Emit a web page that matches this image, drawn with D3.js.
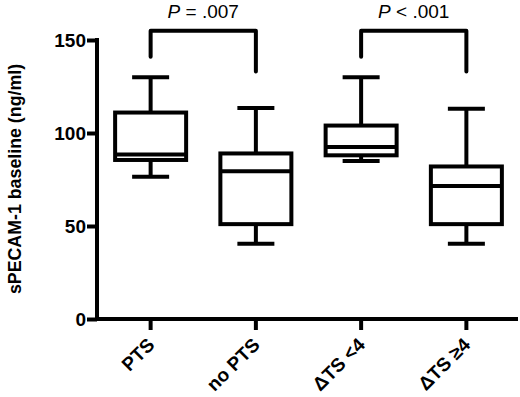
<!DOCTYPE html>
<html><head><meta charset="utf-8">
<script src="https://cdn.jsdelivr.net/npm/d3@7"></script>
<style>body{margin:0;background:#fff}svg{display:block}</style>
</head><body>
<svg id="c" width="520" height="397"></svg>
<script>
const categories = ["PTS", "no PTS", "\u0394TS <4", "\u0394TS \u22654"];
const whiskerLow  = [76.5, 40.5, 85, 40.5];
const q1          = [85.5, 51, 88, 51];
const median      = [88.5, 79.5, 92.5, 71.5];
const q3          = [111, 89, 104, 82];
const whiskerHigh = [130, 113.5, 130, 113];
const yTicks = [0, 50, 100, 150];
const pLabels = ["= .007", "< .001"];
const bracketPairs = [[0, 1], [2, 3]];
const bracketTop = [155, 155];
const bracketLeftEnd = [141, 141];
const bracketRightEnd = [133, 133];

const svg = d3.select("#c");
const font = "'Liberation Sans', Arial, sans-serif";
const y = d3.scaleLinear().domain([0, 150]).range([319, 40]);
const x = d3.scaleBand().domain(categories).range([98, 519]).paddingInner(0).paddingOuter(0);
const cx = c => x(c) + x.bandwidth() / 2;
const boxW = 71, capW = 37, sw = 4;

// Y axis
const yAx = svg.append("g").attr("transform", "translate(97,0)")
  .call(d3.axisLeft(y).tickValues(yTicks).tickSize(10).tickSizeOuter(0));
yAx.select(".domain").attr("stroke-width", sw).attr("d", `M0,${y(150)-2}V${y(0)+2}`);
yAx.selectAll(".tick line").attr("stroke-width", sw);
yAx.selectAll(".tick text").attr("font-family", font).attr("font-weight", "bold")
  .attr("font-size", 19).attr("fill", "#000").attr("x", -11);

// X axis
const xAx = svg.append("g").attr("transform", `translate(0,${y(0)})`)
  .call(d3.axisBottom(x).tickSize(11).tickSizeOuter(0));
xAx.select(".domain").attr("stroke-width", sw).attr("d", "M95,0H518");
xAx.selectAll(".tick line").attr("stroke-width", sw);
xAx.selectAll(".tick text").attr("font-family", font).attr("font-weight", "bold")
  .attr("font-size", 19).attr("fill", "#000")
  .attr("text-anchor", "end").attr("dy", 0).attr("y", 0)
  .attr("transform", "translate(5,27) rotate(-45)");

// Y label
svg.append("text").attr("transform", `translate(21,179) rotate(-90)`)
  .attr("text-anchor", "middle").attr("font-family", font).attr("font-weight", "bold")
  .attr("font-size", 17.8).text("sPECAM-1 baseline (ng/ml)");

// Boxes
const g = svg.append("g").attr("stroke", "#000").attr("stroke-width", sw).attr("fill", "none");
categories.forEach((c, i) => {
  const m = cx(c);
  g.append("line").attr("x1", m).attr("x2", m).attr("y1", y(q3[i])).attr("y2", y(whiskerHigh[i]));
  g.append("line").attr("x1", m).attr("x2", m).attr("y1", y(q1[i])).attr("y2", y(whiskerLow[i]));
  g.append("line").attr("x1", m - capW/2).attr("x2", m + capW/2).attr("y1", y(whiskerHigh[i])).attr("y2", y(whiskerHigh[i]));
  g.append("line").attr("x1", m - capW/2).attr("x2", m + capW/2).attr("y1", y(whiskerLow[i])).attr("y2", y(whiskerLow[i]));
  g.append("rect").attr("x", m - boxW/2).attr("width", boxW).attr("y", y(q3[i])).attr("height", y(q1[i]) - y(q3[i])).attr("fill", "#fff");
  g.append("line").attr("x1", m - boxW/2).attr("x2", m + boxW/2).attr("y1", y(median[i])).attr("y2", y(median[i]));
});

// Brackets
bracketPairs.forEach((p, i) => {
  const a = cx(categories[p[0]]), b = cx(categories[p[1]]);
  svg.append("path").attr("fill", "none").attr("stroke", "#000").attr("stroke-width", sw)
    .attr("stroke-linejoin", "round").attr("stroke-linecap", "round")
    .attr("d", `M${a},${y(bracketLeftEnd[i])}V${y(bracketTop[i])}H${b}V${y(bracketRightEnd[i])}`);
  const t = svg.append("text").attr("x", (a + b) / 2).attr("y", 18).attr("text-anchor", "middle")
    .attr("font-family", font).attr("font-size", 19);
  t.append("tspan").attr("font-style", "italic").text("P");
  t.append("tspan").text(" " + pLabels[i]);
});
</script>
</body></html>
